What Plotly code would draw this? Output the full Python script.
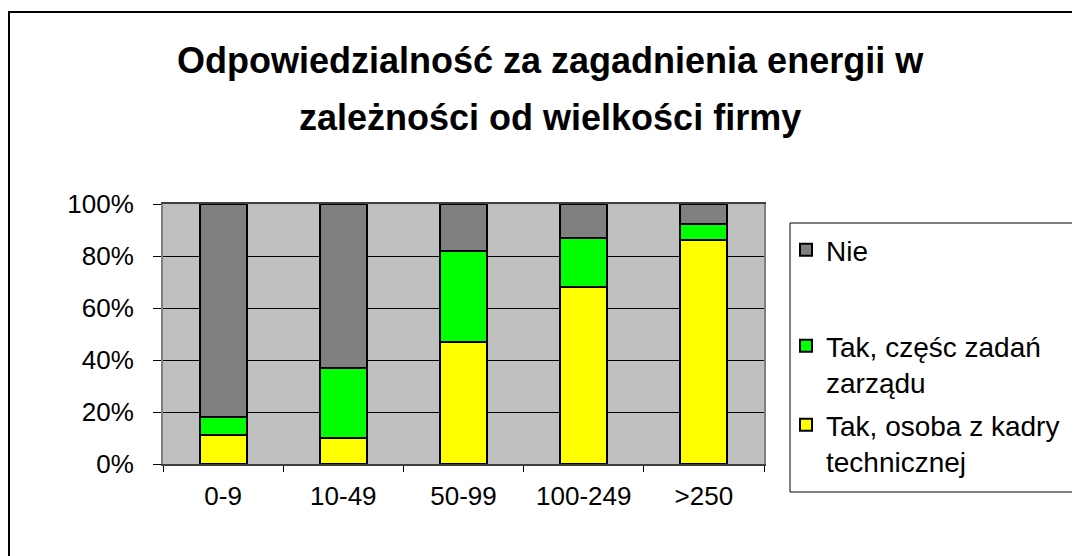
import plotly.graph_objects as go

# ---- data ----
categories = ["0-9", "10-49", "50-99", "100-249", ">250"]
tak_techniczna = [11, 10, 47, 68, 86]      # Tak, osoba z kadry technicznej (%)
tak_zarzad = [7, 27, 35, 19, 6.5]          # Tak, częśc zadań zarządu (%)
nie = [82, 63, 18, 13, 7.5]                # Nie (%)
series_names = ["Tak, osoba z kadry<br>technicznej", "Tak, częśc zadań<br>zarządu", "Nie"]
title_lines = ["Odpowiedzialność za zagadnienia energii w", "zależności od wielkości firmy"]
y_tickvals = [0, 20, 40, 60, 80, 100]
y_ticktext = ["0%", "20%", "40%", "60%", "80%", "100%"]

# ---- layout geometry (screen pixels; page body has an 8px margin) ----
OFF = 8
W, H = 1080, 556
L, R, T, B = 163 - OFF, 764 - OFF, 204 - OFF, 464 - OFF
pw, ph = R - L, B - T


def px_x(x):
    return (x - OFF - L) / pw


def px_y(y):
    return (B - (y - OFF)) / ph


FONT = "Arial, 'Liberation Sans', sans-serif"
colors = ["#FFFF00", "#00FF00", "#808080"]
values = [tak_techniczna, tak_zarzad, nie]
legend_ids = ["legend3", "legend2", "legend"]
legend_line_centers = [427, 348, 252]   # screen y of first text line

fig = go.Figure()
for name, vals, col, lg in zip(series_names, values, colors, legend_ids):
    fig.add_trace(go.Bar(
        x=categories, y=vals, name=name,
        marker=dict(color=col, line=dict(color="black", width=2)),
        width=0.39, legend=lg,
    ))

legend_font = dict(family=FONT, size=28, color="black")
legends = {}
for lg, yc in zip(legend_ids, legend_line_centers):
    legends[lg] = dict(
        x=px_x(786), y=px_y(yc - 27), xanchor="left", yanchor="top",
        valign="top", bgcolor="rgba(0,0,0,0)", borderwidth=0,
        font=legend_font,
    )

fig.update_layout(
    width=W, height=H,
    margin=dict(l=L, r=W - R, t=T, b=H - B),
    barmode="stack",
    paper_bgcolor="white",
    plot_bgcolor="#C0C0C0",
    font=dict(family=FONT, size=26, color="black"),
    showlegend=True,
    xaxis=dict(
        type="category", showgrid=False, tickson="boundaries",
        ticks="outside", ticklen=6, tickcolor="black",
        showline=True, linecolor="#404040", linewidth=2, mirror=True,
        ticklabelstandoff=8, tickfont=dict(size=26),
    ),
    yaxis=dict(
        range=[0, 100], tickvals=y_tickvals, ticktext=y_ticktext,
        showgrid=True, gridcolor="black", gridwidth=1,
        ticks="outside", ticklen=8, tickcolor="black",
        showline=True, linecolor="#808080", linewidth=2, mirror=True,
        ticklabelstandoff=14, tickfont=dict(size=26), zeroline=False,
    ),
    **legends,
)

# title (two lines, Excel-like spacing)
for text, ypx in zip(title_lines, [60, 117]):
    fig.add_annotation(
        text=f"<b>{text}</b>", xref="paper", yref="paper",
        x=px_x(550), y=px_y(ypx), xanchor="center", yanchor="middle",
        showarrow=False, font=dict(family=FONT, size=36, color="black"),
    )

# outer chart border
fig.add_shape(type="rect", xref="paper", yref="paper",
              x0=px_x(9), x1=px_x(1100), y0=px_y(580), y1=px_y(12),
              line=dict(color="black", width=2), fillcolor="rgba(0,0,0,0)")
# legend box
fig.add_shape(type="rect", xref="paper", yref="paper",
              x0=px_x(790), x1=px_x(1100), y0=px_y(492), y1=px_y(223),
              line=dict(color="black", width=1), fillcolor="rgba(0,0,0,0)")

fig.write_html("out.html")
